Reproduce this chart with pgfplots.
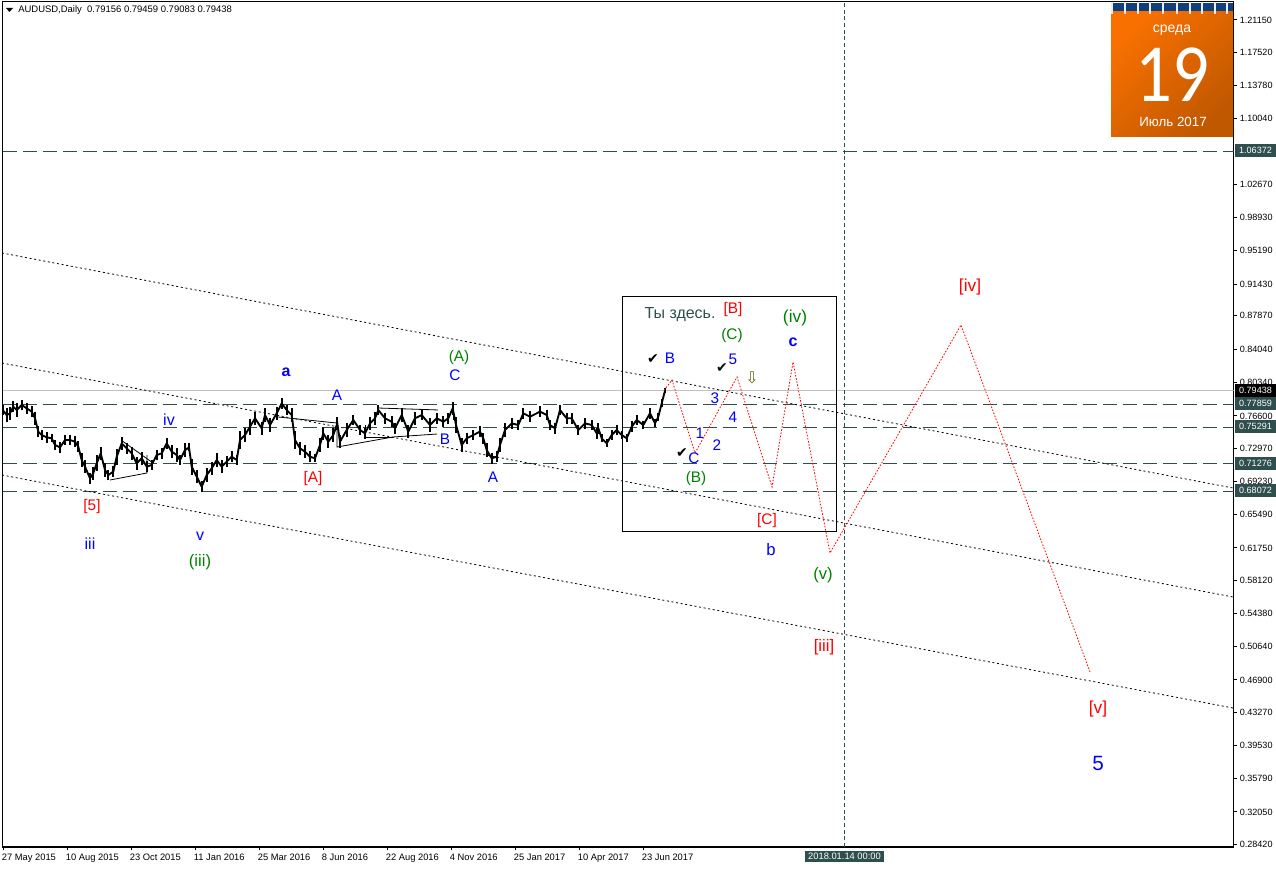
\documentclass[border=0pt]{standalone}
\usepackage{pgfplots}
\usepackage{pgfplotstable}
\usepackage{fontspec}
\pgfplotsset{compat=1.18}
\setmainfont{Liberation Sans}
\newfontfamily\sym{DejaVu Sans}
\newfontfamily\calfont{Carlito}
\definecolor{slate}{HTML}{2F4F4F}
\definecolor{silv}{HTML}{C0C0C0}
\definecolor{wblue}{HTML}{0000FF}
\definecolor{wred}{HTML}{FF0000}
\definecolor{wgreen}{HTML}{008000}
\definecolor{calA}{HTML}{F87000}
\definecolor{calB}{HTML}{C05800}
\definecolor{calT}{HTML}{0F3F7F}

% x is the bar position on screen, y the price
\pgfplotstableread{
x y e
2.7 .7726 .004
6.7 .7670 .005
10 .7689 .005
13.3 .7764 .004
16.7 .7726 .005
21.7 .7783 .004
26.7 .7745 .004
31.7 .7708 .004
35 .7633 .005
38.3 .7483 .004
41.7 .7445 .004
46.7 .7419 .004
51.7 .7408 .003
55 .7333 .004
60 .7306 .004
65 .7389 .004
70 .7389 .004
75 .7370 .004
78.3 .7314 .004
81.7 .7164 .005
85 .7089 .005
90 .6958 .004
93.3 .7014 .005
96.7 .7126 .006
100.7 .7239 .005
105 .7051 .005
108.3 .6995 .004
113.3 .7033 .004
116.7 .7201 .006
121.7 .7351 .005
126.7 .7295 .004
131.7 .7239 .005
136.7 .7126 .005
141.7 .7183 .005
146.7 .7089 .004
151.7 .7108 .004
156.7 .7220 .004
161.7 .7239 .004
166.7 .7351 .004
171.7 .7258 .005
176.7 .7220 .005
180 .7164 .004
185 .7276 .005
189 .7306 .003
191.7 .7089 .006
196.7 .6976 .005
201.7 .6864 .004
206.7 .6995 .005
211.7 .7070 .005
216.7 .7164 .005
221.7 .7089 .005
226.7 .7145 .004
231.7 .7201 .004
236.7 .7164 .004
240 .7389 .007
245 .7445 .005
250 .7539 .006
255 .7633 .005
261.7 .7520 .005
265 .7670 .005
270 .7558 .005
276.7 .7689 .005
281.7 .7801 .004
286.7 .7726 .004
291.7 .7670 .005
295 .7389 .007
300 .7295 .005
305 .7258 .005
310 .7201 .004
315 .7183 .003
320 .7333 .005
323.3 .7464 .005
328.3 .7370 .005
333.3 .7445 .005
337.3 .7576 .005
340 .7370 .005
346.7 .7501 .005
353.3 .7614 .004
360 .7501 .004
365 .7464 .004
370 .7576 .005
375 .7633 .005
378.3 .7726 .004
385 .7633 .004
391.7 .7595 .004
395 .7520 .004
401.7 .7670 .005
408.3 .7483 .005
415 .7633 .005
421.7 .7670 .004
430 .7558 .005
436.7 .7633 .004
443.3 .7595 .004
448.3 .7633 .004
452.7 .7745 .005
456 .7558 .006
461.7 .7333 .005
466.7 .7408 .004
473.3 .7445 .004
480 .7483 .004
483.3 .7408 .004
486.7 .7276 .005
491.7 .7183 .004
496.7 .7201 .004
500 .7333 .005
505 .7501 .005
511.7 .7576 .004
518.3 .7558 .004
523.3 .7689 .004
530 .7651 .004
540 .7708 .004
546.7 .7670 .004
550 .7558 .004
555 .7520 .004
560 .7726 .004
566.7 .7633 .004
571.7 .7633 .004
578.3 .7501 .004
585 .7576 .004
591.7 .7558 .004
596.7 .7464 .004
598.3 .7520 .004
601.7 .7408 .003
606.7 .7351 .003
611.7 .7445 .004
616.7 .7501 .004
621.7 .7445 .003
626.7 .7408 .003
631.7 .7539 .004
636.7 .7614 .004
643.3 .7558 .003
650 .7689 .004
655 .7576 .003
658.3 .7651 .003
661.7 .7801 .003
665 .7944 .002
}\audusd

\begin{document}
\begin{tikzpicture}
\useasboundingbox (0,0) rectangle (957pt,651pt);
\begin{axis}[
    at={(1.875pt,15.75pt)}, anchor=south west,
    scale only axis, width=923.25pt, height=634.1pt,
    xmin=2.5, xmax=1233.5, ymin=.2810, ymax=1.2322,
    axis line style={line width=.85pt},
    tick style={black, line width=.75pt},
    tickwidth=2.5pt, tick align=outside,
    xtick pos=bottom, ytick pos=right,
    xtick={3,67,131,195,259,323,387,451,515,579,643},
    xticklabels={27 May 2015,10 Aug 2015,23 Oct 2015,11 Jan 2016,25 Mar 2016,8 Jun 2016,22 Aug 2016,4 Nov 2016,25 Jan 2017,10 Apr 2017,23 Jun 2017},
    ytick={1.2115,1.1752,1.1378,1.1004,1.0267,.9893,.9519,.9143,.8787,.8404,.8034,.7660,.7297,.6923,.6549,.6175,.5812,.5438,.5064,.4690,.4327,.3953,.3579,.3205,.2842},
    yticklabels={1.21150,1.17520,1.13780,1.10040,1.02670,0.98930,0.95190,0.91430,0.87870,0.84040,0.80340,0.76600,0.72970,0.69230,0.65490,0.61750,0.58120,0.54380,0.50640,0.46900,0.43270,0.39530,0.35790,0.32050,0.28420},
    xticklabel style={anchor=north west, inner sep=0pt, font=\fontsize{7}{8}\selectfont, xshift=-1pt, yshift=-2.5pt},
    yticklabel style={anchor=west, inner sep=0pt, font=\fontsize{6.8}{8}\selectfont, xshift=2pt},
]
% levels
\addplot[silv, line width=.75pt] coordinates {(2.5,.79438) (1233.5,.79438)};
\addplot[slate, line width=.75pt, dash pattern=on 11pt off 4pt] coordinates {(2.5,.77859) (1233.5,.77859)};
\addplot[slate, line width=.75pt, dash pattern=on 11pt off 4pt] coordinates {(2.5,.75291) (1233.5,.75291)};
\addplot[slate, line width=.75pt, dash pattern=on 11pt off 4pt] coordinates {(2.5,.71276) (1233.5,.71276)};
\addplot[slate, line width=.75pt, dash pattern=on 11pt off 4pt] coordinates {(2.5,.68072) (1233.5,.68072)};
\addplot[slate, line width=.75pt, dash pattern=on 11pt off 4pt] coordinates {(2.5,1.06372) (1233.5,1.06372)};
\addplot[slate, line width=.75pt, dash pattern=on 3pt off 2pt] coordinates {(844,.2810) (844,1.2322)};
% channel
\addplot[black, line width=.6pt, dash pattern=on 1.5pt off 2pt] coordinates {(2,.9493) (1233,.6849)};
\addplot[black, line width=.6pt, dash pattern=on 1.5pt off 2pt] coordinates {(2,.8255) (1233,.5623)};
\addplot[black, line width=.6pt, dash pattern=on 1.5pt off 2pt] coordinates {(2,.6995) (1233,.4374)};
% box round the forecast
\addplot[black, line width=.75pt] coordinates {(622,.9009) (836,.9009) (836,.6354) (622,.6354) (622,.9009)};
% small patterns drawn on the price
\addplot[black, line width=.6pt] coordinates {(121,.7389) (153,.7130)};
\addplot[black, line width=.6pt] coordinates {(110,.6939) (147,.7018) (147,.7220)};
\addplot[black, line width=.6pt] coordinates {(278,.7648) (337,.7580)};
\addplot[black, line width=.6pt] coordinates {(337,.7558) (337,.7310) (393,.7423) (437,.7456)};
\addplot[black, line width=.6pt] coordinates {(378,.7749) (438,.7727)};
\addplot[black, line width=.6pt] coordinates {(365,.7558) (365,.7423) (393,.7423)};
\addplot[black, line width=.6pt] coordinates {(453,.7794) (453,.7614)};
% price
\addplot[black, line width=1.4pt,
    error bars/.cd, y dir=both, y explicit,
    error mark=none, error bar style={black, line width=1.3pt}]
    table[x=x, y=y, y error expr=\thisrow{e}*1.5] {\audusd};
% forecast
\addplot[wred, line width=.6pt, dash pattern=on 1.2pt off 1.2pt] coordinates {(664,.7948) (672,.8064) (695,.7243) (737,.8098) (772,.6860) (793,.8267) (830,.6118) (961,.8683) (1090,.4779)};
\end{axis}

% screen furniture and wave labels, in pixels of the screenshot
\begin{scope}[x=.75pt, y=-.75pt, yshift=651pt]
\tikzset{lb/.style={inner sep=0pt, yshift=-1pt, font=\fontsize{11.5}{12}\selectfont}}
\fill[black] (6,8) -- (13,8) -- (9.5,12) -- cycle;
\node[anchor=west, inner sep=0pt, font=\fontsize{7.1}{8}\selectfont] at (18,10.5) {AUDUSD,Daily\ \ 0.79156 0.79459 0.79083 0.79438};

% calendar
\shade[top color=calA, bottom color=calB, shading angle=45] (1111,11) rectangle (1233,137);
\fill[calT] (1111,3) rectangle (1233,11);
\foreach \r in {1112,1125,1138,1150,1163,1177,1190,1202,1215,1227}
  \fill[white!85!gray] (\r-1.2,2) rectangle (\r+1.2,14);
\node[white, inner sep=0pt, font=\fontsize{10.5}{12}\selectfont] at (1172,30) {среда};
\node[white, inner sep=0pt, xscale=.88, font=\calfont\fontsize{62}{50}\selectfont] at (1172,75) {19};
\node[white, inner sep=0pt, font=\fontsize{10}{12}\selectfont] at (1173,122) {Июль 2017};

% price boxes
\foreach \yy/\tx in {403.5/0.77859,426.5/0.75291,463.5/0.71276,490.5/0.68072,150.5/1.06372}
  \node[fill=slate, text=white, minimum width=30.5pt, minimum height=9.5pt, inner sep=0pt, font=\fontsize{6.8}{8}\selectfont] at (1255.5,\yy) {\tx};
\node[fill=black, text=white, minimum width=30.5pt, minimum height=9.5pt, inner sep=0pt, font=\fontsize{6.8}{8}\selectfont] at (1255.5,390.5) {0.79438};
\node[fill=slate, text=white, minimum width=59pt, minimum height=8.5pt, inner sep=0pt, font=\fontsize{7}{8}\selectfont] at (844.5,856.5) {2018.01.14 00:00};

% waves
\node[lb, wblue, font=\fontsize{12}{12}\selectfont] at (169,418) {iv};
\node[lb, wblue, font=\bfseries\fontsize{12}{12}\selectfont] at (286,371) {a};
\node[lb, wblue] at (337,394) {A};
\node[lb, wred] at (92,505) {[5]};
\node[lb, wblue, font=\fontsize{12}{12}\selectfont] at (90,542) {iii};
\node[lb, wblue, font=\fontsize{12}{12}\selectfont] at (200,535) {v};
\node[lb, wgreen, font=\fontsize{12.5}{12}\selectfont] at (200,561) {(iii)};
\node[lb, wred] at (313,477) {[A]};
\node[lb, wgreen] at (459,356) {(A)};
\node[lb, wblue] at (455,374) {C};
\node[lb, wblue] at (445,438) {B};
\node[lb, wblue] at (493,476) {A};
\node[lb, slate, font=\fontsize{12}{12}\selectfont] at (680,313) {Ты здесь.};
\node[lb, wred] at (733,308) {[B]};
\node[lb, wgreen] at (732,334) {(C)};
\node[lb, wgreen, font=\fontsize{13}{12}\selectfont] at (795,317) {(iv)};
\node[lb, wblue, font=\bfseries\fontsize{12}{12}\selectfont] at (793,341) {c};
\node[lb, wblue, font=\fontsize{11.5}{12}\selectfont] at (733,358) {5};
\node[lb, wblue] at (670,357) {B};
\node[lb, font=\sym\fontsize{10.5}{10}\selectfont] at (653,358) {✔};
\node[lb, font=\sym\fontsize{10.5}{10}\selectfont, black!80!slate] at (722,367) {✔};
\node[lb, font=\sym\fontsize{10.5}{10}\selectfont] at (682,452) {✔};
\node[lb, olive!70!black, font=\sym\fontsize{12}{12}\selectfont] at (752,377) {⇩};
\node[lb, wblue] at (715,397) {3};
\node[lb, wblue] at (733,416) {4};
\node[lb, wblue] at (717,444) {2};
\node[lb, wblue] at (700,432) {1};
\node[lb, wblue] at (694,457) {C};
\node[lb, wgreen] at (696,477) {(B)};
\node[lb, wred] at (767,519) {[C]};
\node[lb, wblue, font=\fontsize{12.5}{12}\selectfont] at (771,548) {b};
\node[lb, wgreen, font=\fontsize{12.5}{12}\selectfont] at (823,574) {(v)};
\node[lb, wred, font=\fontsize{12.5}{12}\selectfont] at (824,646) {[iii]};
\node[lb, wred, font=\fontsize{13}{12}\selectfont] at (970,286) {[iv]};
\node[lb, wred, font=\fontsize{13}{12}\selectfont] at (1098,708) {[v]};
\node[lb, wblue, font=\fontsize{15.5}{16}\selectfont] at (1098,762) {5};
\end{scope}
\end{tikzpicture}
\end{document}
